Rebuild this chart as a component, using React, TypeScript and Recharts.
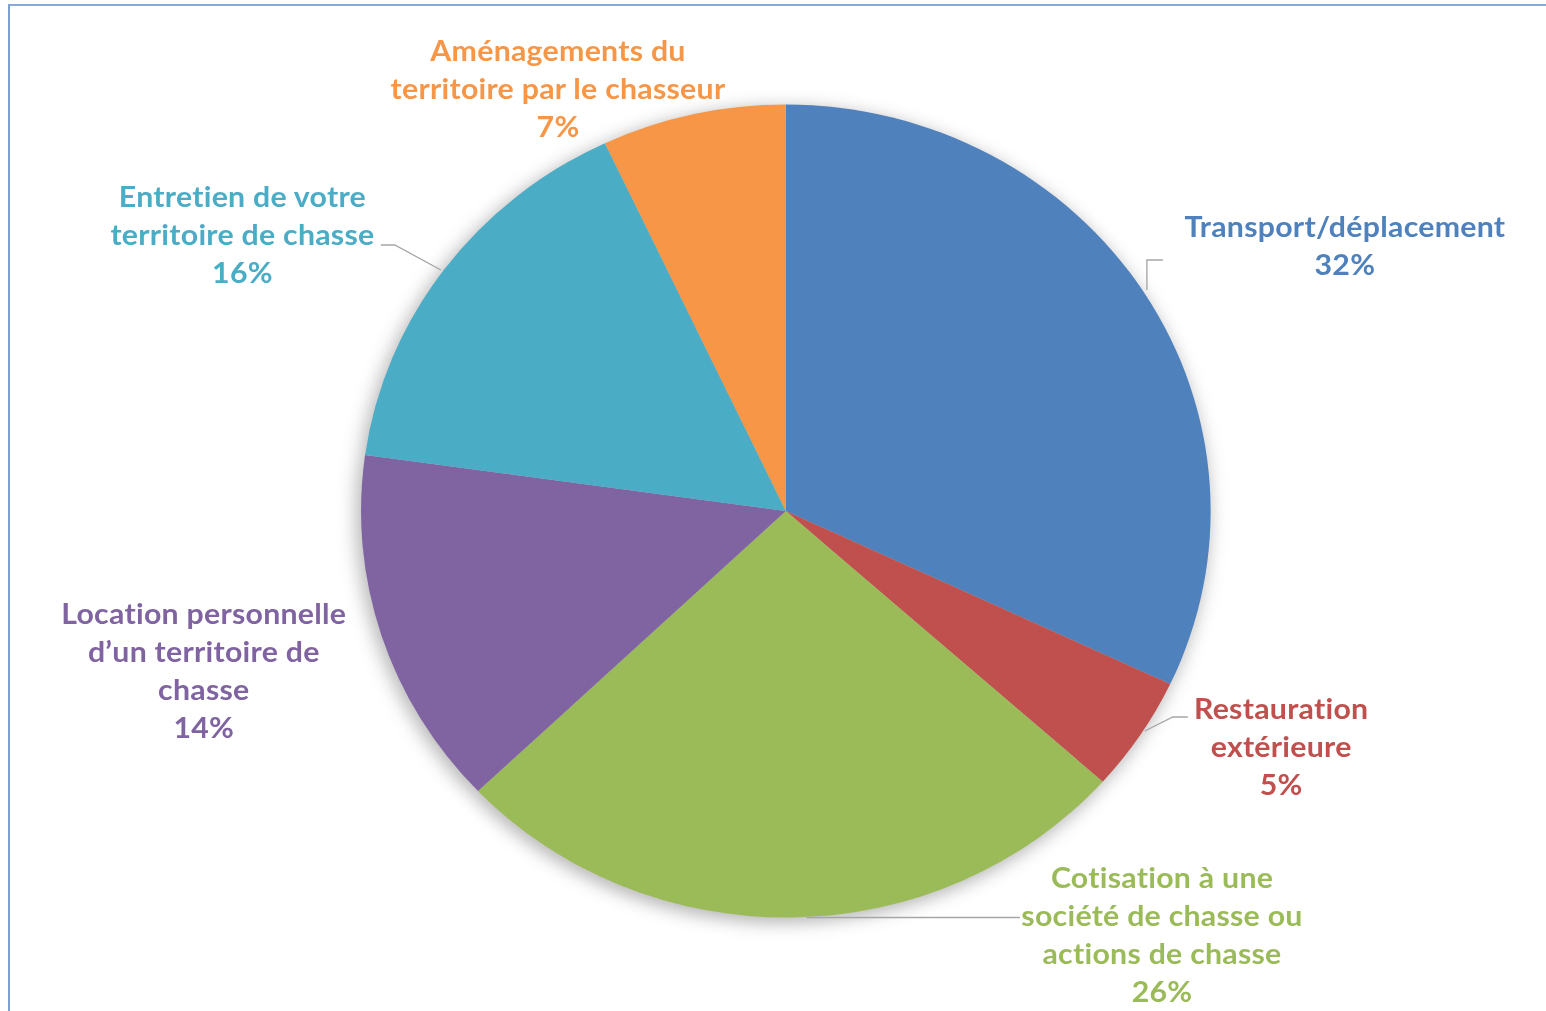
import { PieChart, Pie, Cell } from 'recharts'

// ── data ──
const CATEGORIES = [
  'Transport/déplacement',
  'Restauration extérieure',
  'Cotisation à une société de chasse ou actions de chasse',
  'Location personnelle d’un territoire de chasse',
  'Entretien de votre territoire de chasse',
  'Aménagements du territoire par le chasseur',
]
const SHARES = [32.0, 4.6, 26.3, 14.3, 15.8, 7.0]

// wrapped label text, one entry per category
const LABEL_LINES = [
  ['Transport/déplacement'],
  ['Restauration', 'extérieure'],
  ['Cotisation à une', 'société de chasse ou', 'actions de chasse'],
  ['Location personnelle', 'd’un territoire de', 'chasse'],
  ['Entretien de votre', 'territoire de chasse'],
  ['Aménagements du', 'territoire par le chasseur'],
]

const COLORS = ['#4F81BD', '#C0504D', '#9BBB59', '#8064A2', '#4BACC6', '#F79646']

// label placement, offsets from the pie centre (Excel best-fit look)
const LABEL_POS = [
  { dx: 535, dy: -286, leader: [[345.5, -221], [345.5, -251], [360.8, -251]] },
  { dx: 474, dy: 196, leader: [[343.5, 220], [370.3, 206], [384.7, 206]] },
  { dx: 360, dy: 365, leader: [[20, 406.5], [224, 406.5]] },
  { dx: -557, dy: 101, leader: null },
  { dx: -520, dy: -316, leader: [[-330.1, -241], [-374.2, -266], [-387.6, -266]] },
  { dx: -218, dy: -462, leader: null },
]

const W = 1546
const H = 1011
const SX = 1.045 // reference is slightly stretched horizontally
const CW = Math.round(W / SX)
const CX = 752
const CY = 511
const R = 406.5
const LINE_H = 38

const data = CATEGORIES.map((name, i) => ({ name, value: SHARES[i] }))

function renderLabel(props: any) {
  const { cx, cy, index, percent } = props
  const pos = LABEL_POS[index]
  const lines = [...LABEL_LINES[index], `${Math.round(percent * 100)}%`]
  const color = COLORS[index]
  return (
    <g key={`lbl-${index}`}>
      {pos.leader && (
        <polyline
          points={pos.leader.map(([x, y]) => `${cx + x},${cy + y}`).join(' ')}
          fill="none"
          stroke="#A6A6A6"
          strokeWidth={1.3}
        />
      )}
      <text
        x={cx + pos.dx}
        y={cy + pos.dy}
        textAnchor="middle"
        dominantBaseline="central"
        fill={color}
        style={{
          fontFamily: 'Lato, "Open Sans", sans-serif',
          fontWeight: 700,
          fontSize: 29,
          letterSpacing: 0.25,
        }}
      >
        {lines.map((l, k) => (
          <tspan key={k} x={cx + pos.dx} y={cy + pos.dy + k * LINE_H}>
            {l}
          </tspan>
        ))}
      </text>
    </g>
  )
}

export default function App() {
  return (
    <div
      style={{
        position: 'absolute',
        left: 0,
        top: 0,
        width: W,
        height: H,
        overflow: 'hidden',
        background: '#fff',
      }}
    >
      <style>{`.pie-shadow { filter: blur(6px); }`}</style>
      {/* frame */}
      <div
        style={{
          position: 'absolute',
          left: 8,
          top: 4,
          width: W,
          height: H,
          borderTop: '2px solid #8DA9D8',
          borderLeft: '2px solid #7E9FD2',
        }}
      />
      <div
        style={{
          position: 'absolute',
          left: 0,
          top: 0,
          width: CW,
          height: H,
          transform: `scaleX(${SX})`,
          transformOrigin: '0 0',
        }}
      >
        <PieChart width={CW} height={H} margin={{ top: 0, right: 0, bottom: 0, left: 0 }}>
          {/* soft shadow under the pie */}
          <Pie
            data={data}
            dataKey="value"
            cx={CX - 3}
            cy={CY + 4}
            outerRadius={R + 2}
            startAngle={90}
            endAngle={-270}
            stroke="none"
            fill="rgba(0,0,0,0.28)"
            className="pie-shadow"
            isAnimationActive={false}
            label={false}
            labelLine={false}
          />
          <Pie
            data={data}
            dataKey="value"
            nameKey="name"
            cx={CX}
            cy={CY}
            outerRadius={R}
            startAngle={90}
            endAngle={-270}
            stroke="none"
            isAnimationActive={false}
            label={renderLabel}
            labelLine={false}
          >
            {data.map((d, i) => (
              <Cell key={d.name} fill={COLORS[i]} />
            ))}
          </Pie>
        </PieChart>
      </div>
    </div>
  )
}
